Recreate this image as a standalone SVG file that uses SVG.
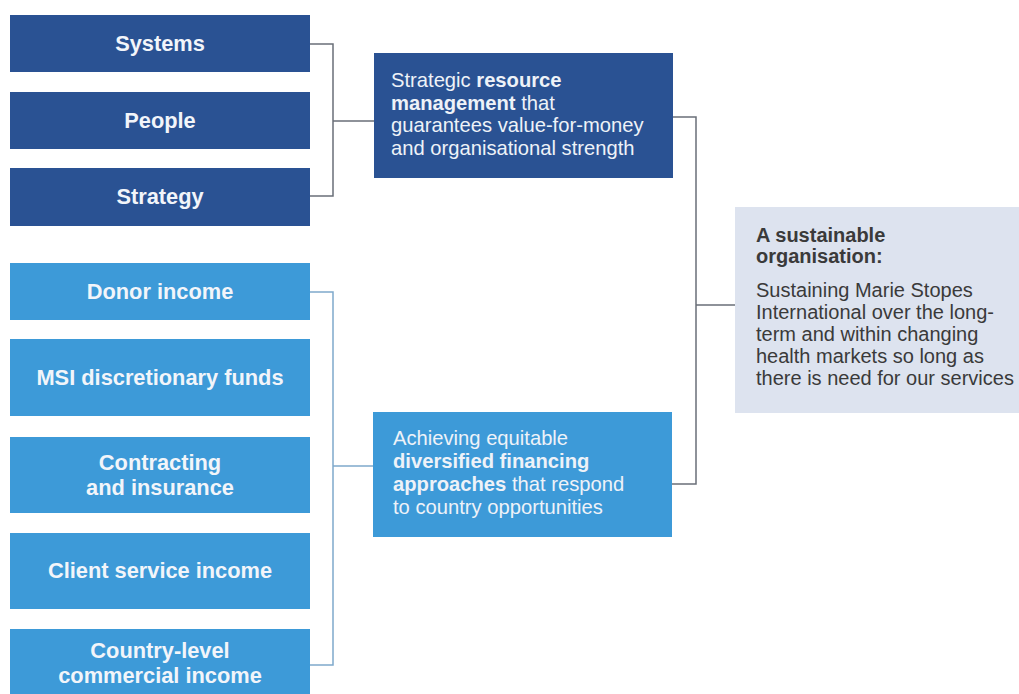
<svg xmlns="http://www.w3.org/2000/svg" width="1019" height="694" viewBox="0 0 1019 694">
<style>
.dark{fill:#2a5293}
.light{fill:#3d9ad8}
.goal{fill:#dde3ef}
.lbl{font-family:"Liberation Sans",Arial,sans-serif;font-weight:bold;font-size:21.8px;fill:#f2f5fa;text-anchor:middle}
.body{font-family:"Liberation Sans",Arial,sans-serif;font-size:20.2px;fill:#eef2f8}
.gtxt{font-family:"Liberation Sans",Arial,sans-serif;font-size:20px;fill:#3a3a3a}
.b{font-weight:bold}
.cd{fill:none;stroke:#6a6f78;stroke-width:1.5}
.cl{fill:none;stroke:#7fa9cc;stroke-width:1.5}
</style>
<rect width="1019" height="694" fill="#ffffff"/>
<g id="connectors">
<path class="cd" d="M310 44H333V196H310M333 121H374"/>
<path class="cl" d="M310 292H333V665H310M333 466H373"/>
<path class="cd" d="M673 117H696V484H672M696 305H735"/>
</g>
<g id="systems"><rect class="dark" x="10" y="15" width="300" height="57"/><text class="lbl" x="160" y="51">Systems</text></g>
<g id="people"><rect class="dark" x="10" y="92" width="300" height="57"/><text class="lbl" x="160" y="128">People</text></g>
<g id="strategy"><rect class="dark" x="10" y="168" width="300" height="58"/><text class="lbl" x="160" y="204">Strategy</text></g>
<g id="donor"><rect class="light" x="10" y="263" width="300" height="57"/><text class="lbl" x="160" y="299">Donor income</text></g>
<g id="msi"><rect class="light" x="10" y="339" width="300" height="77"/><text class="lbl" x="160" y="385">MSI discretionary funds</text></g>
<g id="contracting"><rect class="light" x="10" y="437" width="300" height="76"/><text class="lbl" x="160" y="470">Contracting</text><text class="lbl" x="160" y="495">and insurance</text></g>
<g id="client"><rect class="light" x="10" y="533" width="300" height="76"/><text class="lbl" x="160" y="578">Client service income</text></g>
<g id="country"><rect class="light" x="10" y="629" width="300" height="70"/><text class="lbl" x="160" y="658">Country-level</text><text class="lbl" x="160" y="683">commercial income</text></g>
<g id="resource"><rect class="dark" x="374" y="53" width="299" height="125"/>
<text class="body" x="391" y="87">Strategic <tspan class="b">resource</tspan></text>
<text class="body" x="391" y="110"><tspan class="b">management</tspan> that</text>
<text class="body" x="391" y="132">guarantees value-for-money</text>
<text class="body" x="391" y="155">and organisational strength</text>
</g>
<g id="financing"><rect class="light" x="373" y="412" width="299" height="125"/>
<text class="body" x="393" y="445">Achieving equitable</text>
<text class="body" x="393" y="468"><tspan class="b">diversified financing</tspan></text>
<text class="body" x="393" y="491"><tspan class="b">approaches</tspan> that respond</text>
<text class="body" x="393" y="514">to country opportunities</text>
</g>
<g id="goal"><rect class="goal" x="735" y="207" width="290" height="206"/>
<text class="gtxt b" x="756" y="242">A sustainable</text>
<text class="gtxt b" x="756" y="263">organisation:</text>
<text class="gtxt" x="756" y="297">Sustaining Marie Stopes</text>
<text class="gtxt" x="756" y="319">International over the long-</text>
<text class="gtxt" x="756" y="341">term and within changing</text>
<text class="gtxt" x="756" y="363">health markets so long as</text>
<text class="gtxt" x="756" y="385">there is need for our services</text>
</g>
</svg>
